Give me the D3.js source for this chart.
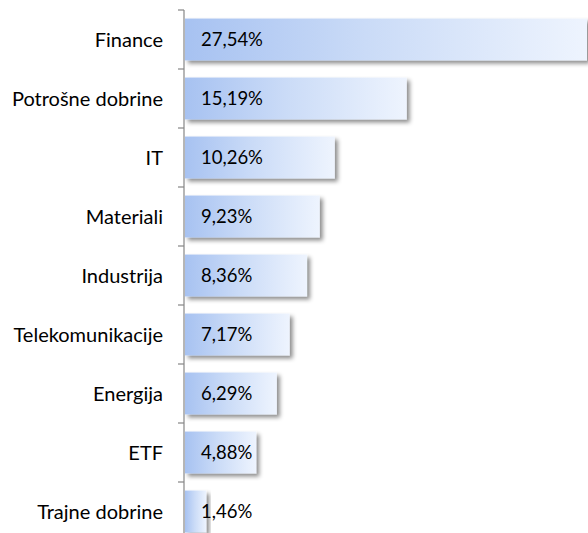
<!DOCTYPE html>
<html>
<head>
<meta charset="utf-8">
<script src="https://cdn.jsdelivr.net/npm/d3@7"></script>
<style>
  html, body { margin: 0; padding: 0; background: #fff; }
  svg { display: block; font-family: Lato, "Open Sans", sans-serif; }
</style>
</head>
<body>
<div id="chart"></div>
<script>
const categories = [
  "Finance", "Potrošne dobrine", "IT", "Materiali", "Industrija",
  "Telekomunikacije", "Energija", "ETF", "Trajne dobrine"
];
const values = [27.54, 15.19, 10.26, 9.23, 8.36, 7.17, 6.29, 4.88, 1.46];

const width = 588, height = 533;
const margin = { top: 10, right: 1, bottom: -8, left: 184 };

const svg = d3.select("#chart").append("svg")
  .attr("width", width).attr("height", height);

const defs = svg.append("defs");
const grad = defs.append("linearGradient")
  .attr("id", "barGrad").attr("x1", 0).attr("x2", 1).attr("y1", 0).attr("y2", 0);
grad.append("stop").attr("offset", "0%").attr("stop-color", "#a7c2f1");
grad.append("stop").attr("offset", "45%").attr("stop-color", "#cadbf7");
grad.append("stop").attr("offset", "100%").attr("stop-color", "#eef4fe");

const shadow = defs.append("filter").attr("id", "shadow")
  .attr("x", "-10%").attr("y", "-20%").attr("width", "130%").attr("height", "160%");
shadow.append("feDropShadow")
  .attr("dx", 3).attr("dy", 3).attr("stdDeviation", 2)
  .attr("flood-color", "#000").attr("flood-opacity", 0.45);

const x = d3.scaleLinear()
  .domain([0, d3.max(values)])
  .range([margin.left + 1, width - margin.right]);

const y = d3.scaleBand()
  .domain(categories)
  .range([margin.top, height - margin.bottom])
  .paddingInner(0.29).paddingOuter(0.145);

const step = y.step();

// bars
svg.append("g").selectAll("rect")
  .data(values)
  .join("rect")
  .attr("x", x(0))
  .attr("y", (d, i) => y(categories[i]))
  .attr("width", d => x(d) - x(0))
  .attr("height", y.bandwidth())
  .attr("fill", "url(#barGrad)")
  .attr("filter", "url(#shadow)");

// value labels
svg.append("g").selectAll("text")
  .data(values)
  .join("text")
  .attr("x", x(0) + 16)
  .attr("y", (d, i) => y(categories[i]) + y.bandwidth() / 2)
  .attr("dy", "0.36em")
  .attr("font-size", 18.5)
  .attr("fill", "#000")
  .text(d => d.toFixed(2).replace(".", ",") + "%");

// axis
const axis = svg.append("g")
  .attr("transform", `translate(${margin.left},0)`);
axis.append("line")
  .attr("x1", 0).attr("x2", 0)
  .attr("y1", margin.top).attr("y2", height)
  .attr("stroke", "#868686").attr("stroke-width", 1.2);
axis.selectAll(".tick")
  .data(categories)
  .join("line")
  .attr("class", "tick")
  .attr("x1", -6).attr("x2", 0)
  .attr("y1", d => y(d) - step * y.paddingInner() / 2)
  .attr("y2", d => y(d) - step * y.paddingInner() / 2)
  .attr("stroke", "#868686").attr("stroke-width", 1.2);

// category labels
svg.append("g").selectAll("text")
  .data(categories)
  .join("text")
  .attr("x", margin.left - 21)
  .attr("y", d => y(d) + y.bandwidth() / 2)
  .attr("dy", "0.36em")
  .attr("text-anchor", "end")
  .attr("font-size", 20)
  .attr("fill", "#000")
  .text(d => d);
</script>
</body>
</html>
